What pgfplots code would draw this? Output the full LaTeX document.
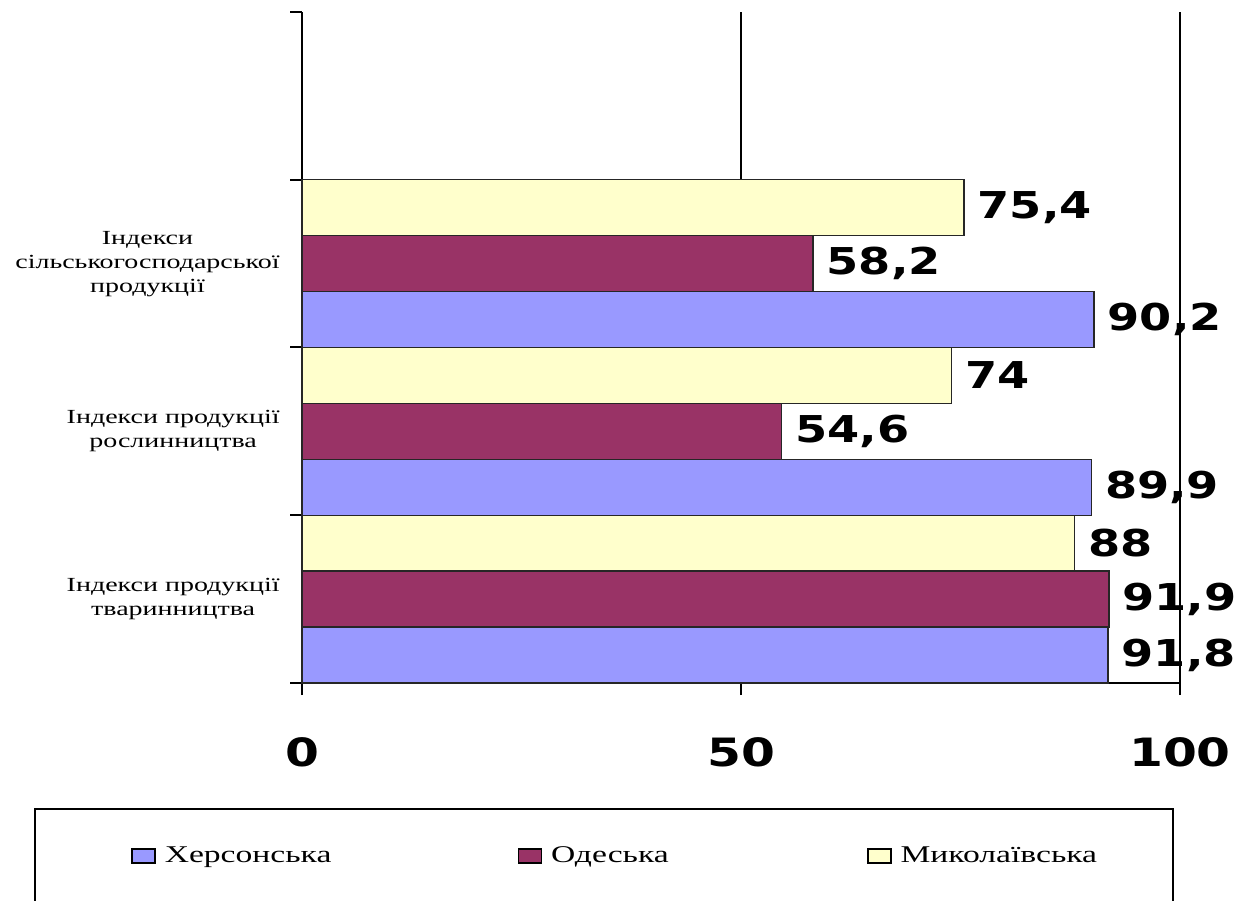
\documentclass[border=0pt]{standalone}
\usepackage{fontspec}
\setmainfont{Liberation Serif}[FakeStretch=1.4]
\newfontfamily\numfont{DejaVu Sans Bold}[FakeStretch=1.25]
\usepackage{pgfplots}
\pgfplotsset{compat=1.18}
\definecolor{kherson}{HTML}{9999FF}
\definecolor{odesa}{HTML}{993366}
\definecolor{mykol}{HTML}{FFFFCC}
\pgfplotsset{boxlegend/.style={legend image code/.code={\draw[##1] (0pt,-3.5pt) rectangle (11.5pt,3.5pt);}}}

\begin{document}
\begin{tikzpicture}[x=1pt,y=1pt]
\useasboundingbox (0,0) rectangle (622.5,450);
\begin{axis}[
    at={(151pt,108.5pt)}, anchor=south west,
    scale only axis, width=439pt, height=335.5pt,
    xbar, bar width=0.3333,
    xmin=0, xmax=100, ymin=0, ymax=4,
    clip=false,
    axis lines=left,
    axis line style={-, black, line width=1pt},
    tick align=outside, major tick length=6pt,
    tick style={black, line width=1pt},
    xtick={0,50,100}, xticklabels={0,50,100},
    xticklabel style={font=\numfont\fontsize{19.5}{22}\selectfont, inner sep=0pt, yshift=-21pt},
    ytick={0,1,2,3,4},
    y tick label as interval,
    yticklabels={{Індекси продукції\\тваринництва},
                 {Індекси продукції\\рослинництва},
                 {Індекси\\сільськогосподарської\\продукції}, {}},
    yticklabel style={font=\fontsize{10}{12}\selectfont, align=center, inner sep=0pt, xshift=-5pt},
    xmajorgrids, grid style={black, line width=0.8pt},
    point meta=x,
    nodes near coords={\pgfmathprintnumber[use comma, fixed, precision=1]{\pgfplotspointmeta}},
    /pgf/number format/assume math mode=true,
    every node near coord/.append style={font=\numfont\fontsize{18.5}{20}\selectfont,
        anchor=west, inner sep=0pt, xshift=6.5pt, text=black},
    legend style={draw=none, fill=none, inner sep=0pt,
        at={(axis description cs:-0.1948,-0.2578)}, anchor=west,
        font=\fontsize{12}{14}\selectfont,
        nodes={inner sep=0pt},
        /tikz/every odd column/.style={column sep=4.5pt},
        /tikz/every even column/.style={column sep=0pt}},
    legend columns=3,
]
\addlegendimage{boxlegend, fill=kherson, draw=black, line width=0.7pt}
\addlegendimage{boxlegend, fill=odesa, draw=black, line width=0.7pt}
\addlegendimage{boxlegend, fill=mykol, draw=black, line width=0.7pt}

% Херсонська
\addplot[forget plot, fill=kherson, draw=black!85, line width=0.7pt, bar shift=-0.3333]
    coordinates {(91.8,0.5) (89.9,1.5) (90.2,2.5)};
% Одеська
\addplot[forget plot, fill=odesa, draw=black!85, line width=0.7pt, bar shift=0]
    coordinates {(91.9,0.5) (54.6,1.5) (58.2,2.5)};
% Миколаївська
\addplot[forget plot, fill=mykol, draw=black!85, line width=0.7pt, bar shift=0.3333]
    coordinates {(88,0.5) (74,1.5) (75.4,2.5)};

\legend{\makebox[176.5pt][l]{Херсонська}, \makebox[158pt][l]{Одеська}, Миколаївська}
\end{axis}
\draw[black, line width=0.8pt] (17.5,45.5) rectangle (586.5,-4.5);
\end{tikzpicture}
\end{document}
